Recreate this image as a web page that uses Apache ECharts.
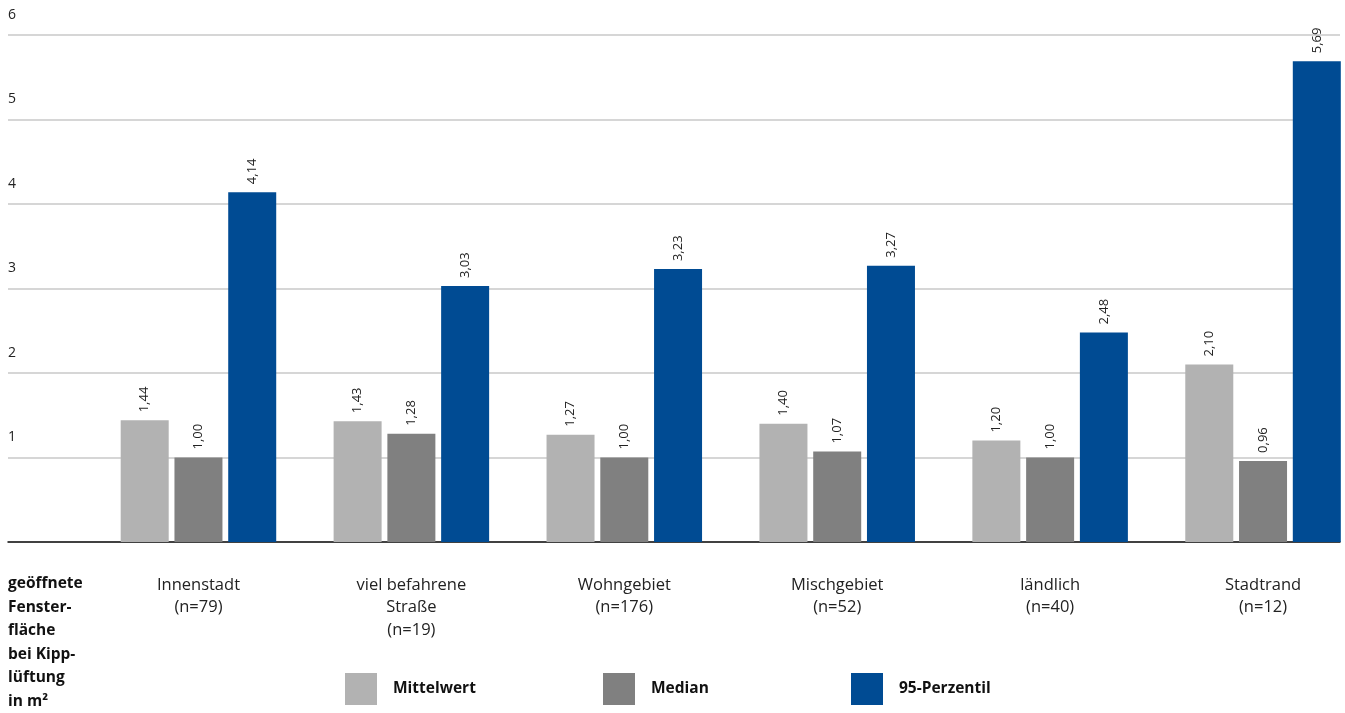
<!DOCTYPE html>
<html><head><meta charset="utf-8">
<script src="https://cdn.jsdelivr.net/npm/echarts@6/dist/echarts.min.js"></script>
<style>html,body{margin:0;padding:0;background:#fff}#c{width:1345px;height:713px}</style>
</head><body><div id="c"></div>
<script>
const categories = ['Innenstadt\n(n=79)', 'viel befahrene\nStraße\n(n=19)', 'Wohngebiet\n(n=176)', 'Mischgebiet\n(n=52)', 'ländlich\n(n=40)', 'Stadtrand\n(n=12)'];
const mittelwert = [1.44, 1.43, 1.27, 1.40, 1.20, 2.10];
const median = [1.00, 1.28, 1.00, 1.07, 1.00, 0.96];
const perzentil95 = [4.14, 3.03, 3.23, 3.27, 2.48, 5.69];
const yTicks = [0, 1, 2, 3, 4, 5, 6];
const seriesNames = ['Mittelwert', 'Median', '95-Perzentil'];
const colors = ['#b2b2b2', '#808080', '#004b93'];
const FONT = '"Open Sans", "Noto Sans", sans-serif';

const chart = echarts.init(document.getElementById('c'));
const fmt = p => p.value.toFixed(2).replace('.', ',');
const label = {
  show: true, position: 'top', rotate: 90, align: 'left', verticalAlign: 'middle',
  distance: 8, fontSize: 13, color: '#222', fontFamily: FONT, formatter: fmt
};
const dataSets = [mittelwert, median, perzentil95];
const series = dataSets.map((d, i) => ({
  name: seriesNames[i], type: 'bar', xAxisIndex: 1, yAxisIndex: 1,
  data: d, barWidth: 48, barGap: '12%', clip: false,
  itemStyle: { color: colors[i] }, label: label
}));
const legendLeft = [345, 603, 851];
chart.setOption({
  animation: false,
  color: colors,
  title: {
    text: 'geöffnete\nFenster-\nfläche\nbei Kipp-\nlüftung\nin m²',
    left: 8, top: 572, padding: 0,
    textStyle: { fontFamily: FONT, fontSize: 15.5, fontWeight: 'bold', color: '#111', lineHeight: 23.5 }
  },
  legend: seriesNames.map((n, i) => ({
    data: [n], left: legendLeft[i], top: 673, padding: 0, itemWidth: 32, itemHeight: 32,
    icon: 'rect', selectedMode: false,
    textStyle: { fontFamily: FONT, fontSize: 15.5, fontWeight: 'bold', color: '#111', padding: [0, 0, 0, 11] }
  })),
  grid: [
    { left: 8, right: 5, top: 35, bottom: 171, outerBoundsMode: 'none' },
    { left: 92, right: -24.5, top: 35, bottom: 171, outerBoundsMode: 'none' }
  ],
  xAxis: [
    { type: 'category', gridIndex: 0, data: [''], axisLine: { lineStyle: { color: '#111', width: 1.5 } },
      axisTick: { show: false }, axisLabel: { show: false } },
    { type: 'category', gridIndex: 1, data: categories, axisLine: { show: false }, axisTick: { show: false },
      axisLabel: { margin: 32, fontFamily: FONT, fontSize: 16.5, color: '#222', lineHeight: 22.5, interval: 0 } }
  ],
  yAxis: [
    { type: 'value', gridIndex: 0, min: yTicks[0], max: yTicks[yTicks.length - 1], interval: 1,
      axisLine: { show: false }, axisTick: { show: false },
      splitLine: { lineStyle: { color: '#c8c8c8', width: 1.5 } },
      axisLabel: { align: 'left', margin: 0, verticalAlign: 'bottom', padding: [0, 0, 13, 0],
        fontFamily: FONT, fontSize: 14, color: '#222', formatter: v => v === 0 ? '' : String(v) } },
    { type: 'value', gridIndex: 1, min: 0, max: 6, show: false, splitLine: { show: false } }
  ],
  series: series
});
</script></body></html>
